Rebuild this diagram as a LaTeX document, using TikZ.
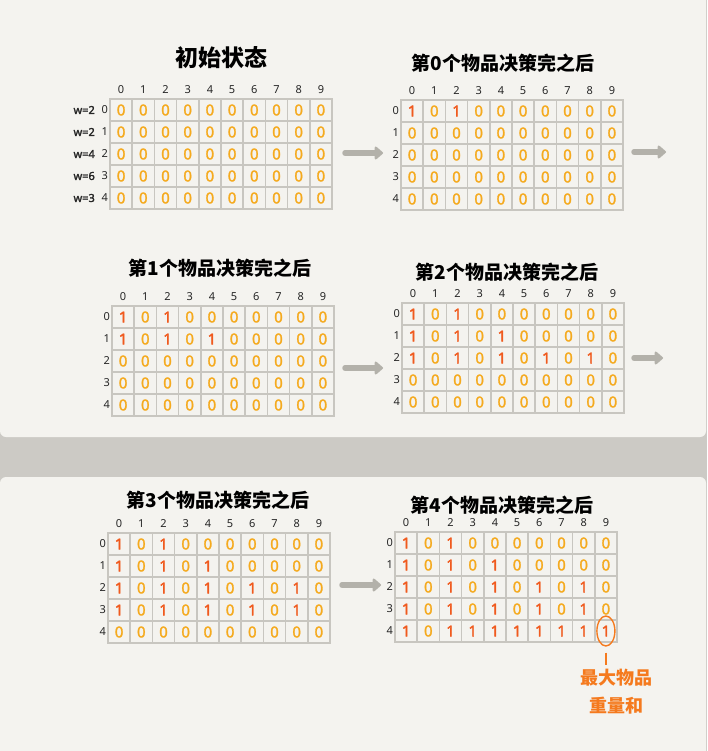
\documentclass[tikz,border=0pt]{standalone}
\usepackage{fontspec}
\setmainfont{Noto Sans}[AutoFakeBold=2]
\newfontfamily\cjk{Noto Sans CJK SC}
\usetikzlibrary{arrows.meta,shapes.geometric}

\definecolor{paper}{HTML}{F4F3EF}
\definecolor{band}{HTML}{CCCAC5}
\definecolor{gridline}{HTML}{C8C6C0}
\definecolor{zero}{HTML}{F5AA1E}
\definecolor{one}{HTML}{F05A1E}
\definecolor{arrowgray}{HTML}{B3B1AA}
\definecolor{noteorange}{HTML}{F57A1E}

\tikzset{
  cell/.style={draw=gridline, line width=1.5pt, minimum width=22.2pt,
    minimum height=22pt, inner sep=0pt, font=\bfseries\fontsize{15}{15}\selectfont},
  v0/.style={text=zero},
  v1/.style={text=one},
  hdr/.style={inner sep=0pt, text=black!85, font=\fontsize{11}{11}\selectfont},
  title/.style={inner sep=0pt, font=\cjk\bfseries\fontsize{19}{19}\selectfont},
  flow/.style={draw=arrowgray, line width=5.5pt, line cap=round,
    -{Triangle[length=9pt,width=15pt,round]}},
}

% name, left, top, rows
\newcommand{\knapgrid}[4]{%
  \foreach \row [count=\ro from 0] in {#4} {
    \foreach \val [count=\co from 0] in \row {
      \node[cell, v\val] (#1-\ro-\co) at ({#2+(\co+0.5)*22.2}, {#3+(\ro+0.5)*22}) {\val};
    }
    \node[hdr, anchor=east] (#1-r\ro) at ({#2-2}, {#3+(\ro+0.5)*22}) {\ro};
  }
  \foreach \co in {0,...,9}
    \node[hdr] (#1-c\co) at ({#2+(\co+0.5)*22.2}, {#3-9}) {\co};
}

\begin{document}
\begin{tikzpicture}[x=1pt, y=-1pt]
    \useasboundingbox (0,0) rectangle (707,751);
    \fill[band] (0,0) rectangle (707,751);
    \fill[paper, rounded corners=6pt] (0,-10) rectangle (706,437);
    \fill[paper, rounded corners=6pt] (0,477) rectangle (706,760);

    % initial state
    \node[title, font=\cjk\bfseries\fontsize{23}{23}\selectfont] (t0) at (221,58) {初始状态};
    \knapgrid{g0}{110}{99}{{0,0,0,0,0,0,0,0,0,0},{0,0,0,0,0,0,0,0,0,0},{0,0,0,0,0,0,0,0,0,0},{0,0,0,0,0,0,0,0,0,0},{0,0,0,0,0,0,0,0,0,0}}
    \foreach \w [count=\ro from 0] in {2,2,4,6,3}
      \node[hdr, anchor=east, font=\bfseries\fontsize{11}{11}\selectfont] (w\ro) at (95, {99+(\ro+0.5)*22}) {w=\w};

    % item 0
    \node[title] (t1) at (503,63) {第0个物品决策完之后};
    \knapgrid{g1}{401}{100}{{1,0,1,0,0,0,0,0,0,0},{0,0,0,0,0,0,0,0,0,0},{0,0,0,0,0,0,0,0,0,0},{0,0,0,0,0,0,0,0,0,0},{0,0,0,0,0,0,0,0,0,0}}

    % item 1
    \node[title] (t2) at (220,268) {第1个物品决策完之后};
    \knapgrid{g2}{112}{306}{{1,0,1,0,0,0,0,0,0,0},{1,0,1,0,1,0,0,0,0,0},{0,0,0,0,0,0,0,0,0,0},{0,0,0,0,0,0,0,0,0,0},{0,0,0,0,0,0,0,0,0,0}}

    % item 2
    \node[title] (t3) at (507,272) {第2个物品决策完之后};
    \knapgrid{g3}{402}{303}{{1,0,1,0,0,0,0,0,0,0},{1,0,1,0,1,0,0,0,0,0},{1,0,1,0,1,0,1,0,1,0},{0,0,0,0,0,0,0,0,0,0},{0,0,0,0,0,0,0,0,0,0}}

    % item 3
    \node[title] (t4) at (218,500) {第3个物品决策完之后};
    \knapgrid{g4}{108}{533}{{1,0,1,0,0,0,0,0,0,0},{1,0,1,0,1,0,0,0,0,0},{1,0,1,0,1,0,1,0,1,0},{1,0,1,0,1,0,1,0,1,0},{0,0,0,0,0,0,0,0,0,0}}

    % item 4
    \node[title] (t5) at (502,505) {第4个物品决策完之后};
    \knapgrid{g5}{395}{532}{{1,0,1,0,0,0,0,0,0,0},{1,0,1,0,1,0,0,0,0,0},{1,0,1,0,1,0,1,0,1,0},{1,0,1,0,1,0,1,0,1,0},{1,0,1,1,1,1,1,1,1,1}}

    % arrows
    \coordinate (a1s) at (345,153); \coordinate (a1e) at (383,153);
    \coordinate (a2s) at (634,152); \coordinate (a2e) at (666,152);
    \coordinate (a3s) at (345,368); \coordinate (a3e) at (383,368);
    \coordinate (a4s) at (634,358); \coordinate (a4e) at (663,358);
    \coordinate (a5s) at (342,585); \coordinate (a5e) at (381,585);
    \draw[flow] (a1s) -- (a1e);
    \draw[flow] (a2s) -- (a2e);
    \draw[flow] (a3s) -- (a3e);
    \draw[flow] (a4s) -- (a4e);
    \draw[flow] (a5s) -- (a5e);

    % answer
    \node[draw=noteorange, line width=1.4pt, ellipse, minimum width=18pt,
      minimum height=30pt, inner sep=0pt] (ring) at (g5-4-9) {};
    \node[text=noteorange, align=center, anchor=north, inner sep=1pt,
      font=\cjk\bfseries\fontsize{18}{28}\selectfont] (note) at (616,668) {最大物品\\重量和};
    \draw[noteorange, line width=1.4pt] ([yshift=-6pt]ring.south) -- ([yshift=3pt]ring.south |- note.north);
\end{tikzpicture}
\end{document}
